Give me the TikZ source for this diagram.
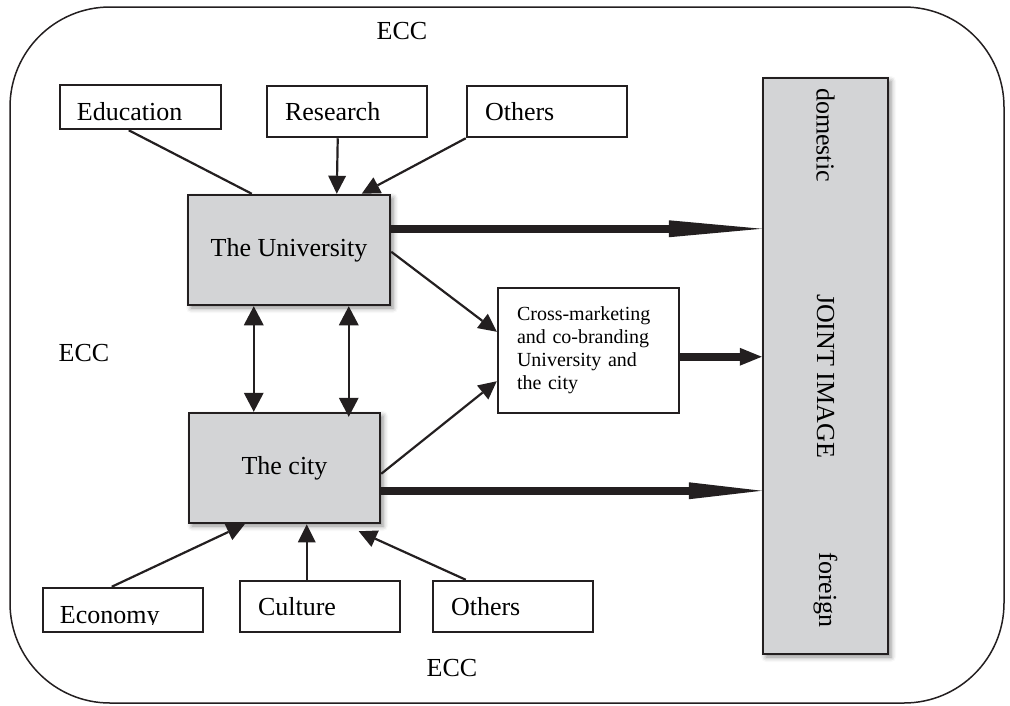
\documentclass[tikz,border=0pt]{standalone}
\usepackage{fontspec}
\setmainfont{Liberation Serif}
\usetikzlibrary{arrows.meta,shadows.blur,calc}
\definecolor{boxgray}{HTML}{D3D4D6}
\definecolor{ink}{HTML}{231F20}
\tikzset{
  lbox/.style={draw=ink, line width=2.5pt, fill=white, inner xsep=18pt, inner ysep=0pt,
     align=left, anchor=center},
  gbox/.style={draw=ink, line width=2.5pt, fill=boxgray, align=center, inner sep=0pt,
     blur shadow={shadow xshift=3pt, shadow yshift=-3pt, shadow blur radius=5pt, shadow opacity=45}},
  thin/.style={draw=ink, line width=2.2pt},
  tarrow/.style={thin, -{Triangle[length=18pt,width=18pt,line width=0pt]}},
  darrow/.style={thin, {Triangle[length=19pt,width=20pt,line width=0pt]}-{Triangle[length=19pt,width=20pt,line width=0pt]}},
  fatarrow/.style={draw=ink, line width=8pt},
  lbl/.style={inner sep=0pt}
}
\begin{document}
\begin{tikzpicture}[x=1pt,y=-1pt,font=\fontsize{26}{30}\selectfont]
\useasboundingbox (0,0) rectangle (1010,705);
% outer frame
\draw[ink, line width=1.5pt, rounded corners=100pt] (10,7) rectangle (1004,703);

% ECC labels
\node[lbl] (ecct) at (402,31) {ECC};
\node[lbl] (eccl) at (84,353) {ECC};
\node[lbl] (eccb) at (452,668) {ECC};

% top input boxes
\node[lbox, text width=125pt, minimum height=44pt] (edu) at (140.5,107) {};
\node[lbl, anchor=west] (edut) at ([xshift=18pt,yshift=-4.5pt]edu.west) {Education};
\node[lbox, text width=124pt, minimum height=51pt] (res) at (347,111.5) {Research};
\node[lbox, text width=124pt, minimum height=51pt] (oth1) at (547,111.5) {Others};

% main boxes
\node[gbox, minimum width=202pt, minimum height=110pt] (univ) at (289,250) {The University};
\node[gbox, minimum width=191pt, minimum height=110pt] (city) at (284.5,468) {The city};
\node[gbox, minimum width=125pt, minimum height=576pt] (joint) at (825.5,366) {};
\node[lbl, rotate=-90] (dom) at (825.5,135) {domestic};
\node[lbl, rotate=-90] (ji) at (825.5,376) {JOINT IMAGE};
\node[lbl, rotate=-90] (for) at (825.5,590) {foreign};

% cross-marketing box
\node[lbox, text width=143pt, minimum height=125pt, inner xsep=19pt,
      font=\fontsize{20}{23}\selectfont] (cross) at (588.5,350.5)
  {Cross-marketing\\and co-branding\\University and\\the city};

% bottom input boxes
\node[lbox, text width=124pt, minimum height=44pt] (econ) at (123,610) {};
\begin{scope}
  \clip (econ.north west) rectangle ([yshift=9pt]econ.south east);
  \node[lbl, anchor=base west] (econt) at ([xshift=18pt,yshift=10pt]econ.south west) {Economy};
\end{scope}
\node[lbox, text width=124pt, minimum height=51pt] (cult) at (320,606.5) {Culture};
\node[lbox, text width=124pt, minimum height=51pt] (oth2) at (513,606.5) {Others};

% connectors into the University
\draw[thin] ([xshift=70pt]edu.south west) -- ([xshift=65pt]univ.north west);
\draw[tarrow] ([xshift=72pt]res.south west) -- ([xshift=150pt]univ.north west);
\draw[tarrow] (oth1.south west) -- ([xshift=175pt]univ.north west);

% connectors into the city
\draw[tarrow] ([xshift=70pt]econ.north west) -- ([xshift=57pt]city.south west);
\draw[tarrow] ([xshift=68pt]cult.north west) -- ([xshift=119pt]city.south west);
\draw[tarrow] ([xshift=34pt]oth2.north west) -- ([xshift=171pt,yshift=-7pt]city.south west);

% University <-> city
\draw[darrow] ([xshift=67pt]univ.south west) -- ([xshift=66pt]city.north west);
\draw[darrow, shorten >=-5pt] ([xshift=162pt]univ.south west) -- ([xshift=161pt]city.north west);

% into cross-marketing
\draw[tarrow] ([yshift=-58pt]univ.north east) -- ([yshift=-45pt]cross.north west);
\draw[tarrow] ([yshift=-62pt]city.north east) -- ([yshift=33pt]cross.south west);

% thick arrows to the joint image
\coordinate (u1) at ([yshift=-35pt]univ.north east);
\coordinate (c1) at ([yshift=-70pt]cross.north east);
\coordinate (t1) at ([yshift=-79pt]city.north east);
\draw[fatarrow, -{Triangle[length=93pt,width=17pt,line width=0pt]}] (u1) -- (u1 -| joint.west);
\draw[fatarrow, -{Triangle[length=22pt,width=18pt,line width=0pt]}] (c1) -- (c1 -| joint.west);
\draw[fatarrow, -{Triangle[length=73pt,width=17pt,line width=0pt]}] (t1) -- (t1 -| joint.west);
\end{tikzpicture}
\end{document}
